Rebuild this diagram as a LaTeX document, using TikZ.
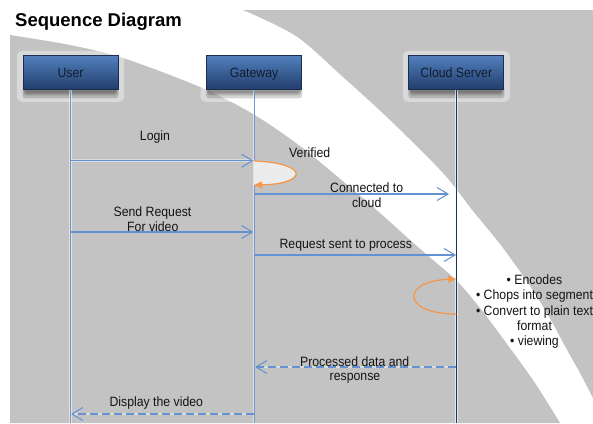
\documentclass[tikz,border=0pt]{standalone}
\usepackage{fontspec}
\setmainfont{Liberation Sans}
\newfontfamily\lblfont{Liberation Sans}[FakeStretch=0.91]
\usetikzlibrary{arrows.meta,calc}
\definecolor{bggray}{RGB}{195,195,195}
\definecolor{msgblue}{RGB}{100,146,208}
\definecolor{lifeblue}{RGB}{112,150,204}
\definecolor{navy}{RGB}{28,52,94}
\definecolor{boxtop}{RGB}{82,128,190}
\definecolor{boxbot}{RGB}{34,62,108}
\definecolor{boxedge}{RGB}{26,46,80}
\definecolor{loopor}{RGB}{247,150,70}
\definecolor{loopfill}{RGB}{236,236,236}
\definecolor{txt}{RGB}{20,20,20}
\definecolor{boxtxt}{RGB}{18,28,46}
\begin{document}
\begin{tikzpicture}[x=1pt,y=-1pt,
  actor/.style={draw=boxedge, line width=0.8pt, top color=boxtop, bottom color=boxbot,
    minimum width=95pt, minimum height=34pt, inner sep=0pt,
    font=\lblfont\fontsize{13.5}{15}\selectfont, text=boxtxt, text height=9.7pt, text depth=0pt},
  halo/.style={white, opacity=.38, rounded corners=5pt},
  boxshadow/.style={black, opacity=.17, rounded corners=3pt},
  lifeline/.style={draw=lifeblue, line width=1pt, preaction={draw=white, opacity=.5, line width=2.6pt}},
  cloudline/.style={draw=navy, line width=1.1pt, preaction={draw=white, opacity=.6, line width=2.8pt}},
  msg/.style={draw=msgblue, line width=1.1pt, -{Straight Barb[length=11pt,width=13pt,line width=1pt]},
    preaction={draw=white, opacity=.4, line width=2.6pt, -}},
  ret/.style={msg, dash pattern=on 8pt off 4pt},
  selfloop/.style={draw=loopor, line width=1.2pt, -{Triangle[length=8pt,width=6.5pt]}},
  lbl/.style={font=\lblfont\fontsize{13.5}{15}\selectfont, text=txt, inner sep=0pt, anchor=base}
]
\useasboundingbox (0,0) rectangle (593,423);
\fill[white] (0,0) rectangle (593,423);
% background swoosh
\fill[bggray] plot[smooth] coordinates {(10,35) (70,45) (123,58) (200,87) (253,114) (300,146) (345,183) (380,213) (410,240) (433,260) (457,281) (480,308) (507,344) (535,383) (560,423)} -- (10,423) -- cycle;
\fill[bggray] plot[smooth] coordinates {(243,10) (296,36) (343,77) (390,120) (443,173) (473,211) (500,244) (526,280) (547,313) (566,348) (580,373) (593,398)} -- (593,10) -- cycle;

% title
\node[anchor=base west, inner sep=0pt, font=\bfseries\fontsize{18.5}{20}\selectfont] (title) at (15,26.7) {Sequence Diagram};

% box centres
\coordinate (uc) at (70.5,72.3);
\coordinate (gc) at (254,72.3);
\coordinate (cc) at (456.3,72.3);
\foreach \c in {uc,gc,cc}{
  \fill[halo] ($(\c)+(-53.5,-21.5)$) rectangle ($(\c)+(53.5,29.5)$);
  \fill[boxshadow] ($(\c)+(-48,12)$) rectangle ($(\c)+(48,26)$);
  \fill[boxshadow] ($(\c)+(-47,14)$) rectangle ($(\c)+(47,23)$);
  \fill[boxshadow] ($(\c)+(-46,15)$) rectangle ($(\c)+(46,21)$);
}

% lifeline ends
\coordinate (ue) at (70.5,423);
\coordinate (ge) at (254,423);
\coordinate (ce) at (456.3,423);
\draw[lifeline] (uc) -- (ue);
\draw[lifeline] (gc) -- (ge);
\draw[cloudline] (cc) -- (ce);

% actors
\node[actor] (user) at (uc) {User};
\node[actor] (gate) at (gc) {Gateway};
\node[actor] (cloud) at (cc) {Cloud Server};

% message anchor points
\coordinate (m1s) at (70.5,160.7);  \coordinate (m1e) at (253.5,160.7);
\coordinate (v1) at (254,161);      \coordinate (v2) at (254,185);
\coordinate (m2s) at (254,194);     \coordinate (m2e) at (449,194);
\coordinate (m3s) at (70.5,232);    \coordinate (m3e) at (253.5,232);
\coordinate (m4s) at (254,255);     \coordinate (m4e) at (456,255);
\coordinate (l1) at (456.3,314);    \coordinate (l2) at (456.3,279);
\coordinate (m5s) at (456.3,367);   \coordinate (m5e) at (255,367);
\coordinate (m6s) at (254,414);     \coordinate (m6e) at (71,414);

\draw[msg] (m1s) -- (m1e);
\fill[loopfill] (v1) .. controls (309,163) and (309,184) .. (v2) -- cycle;
\draw[selfloop] (v1) .. controls (309,163) and (309,184) .. (v2);
\draw[msg] (m2s) -- (m2e);
\draw[msg] (m3s) -- (m3e);
\draw[msg] (m4s) -- (m4e);
\draw[selfloop] (l1) .. controls (401,314) and (401,281) .. (l2);
\draw[ret] (m5s) -- (m5e);
\draw[ret] (m6s) -- (m6e);

% labels
\node[lbl] (tlogin) at (155,140.7) {Login};
\node[lbl] (tver) at (309.7,157.3) {Verified};
\node[lbl] (tcon1) at (366.7,192.7) {Connected to};
\node[lbl] (tcon2) at (366.7,207.3) {cloud};
\node[lbl] (tsend1) at (152.5,216.7) {Send Request};
\node[lbl] (tsend2) at (152.8,231.7) {For video};
\node[lbl] (treq) at (345.8,248.3) {Request sent to process};
\node[lbl] (tb1) at (534.5,284) {• Encodes};
\node[lbl] (tb2) at (534.5,299.3) {• Chops into segment};
\node[lbl] (tb3) at (534.5,315) {• Convert to plain text};
\node[lbl] (tb4) at (534.5,330) {format};
\node[lbl] (tb5) at (534.5,345.3) {• viewing};
\node[lbl] (tproc1) at (354.7,366) {Processed data and};
\node[lbl] (tproc2) at (355,380.7) {response};
\node[lbl] (tdisp) at (156.3,406.7) {Display the video};
\end{tikzpicture}
\end{document}
